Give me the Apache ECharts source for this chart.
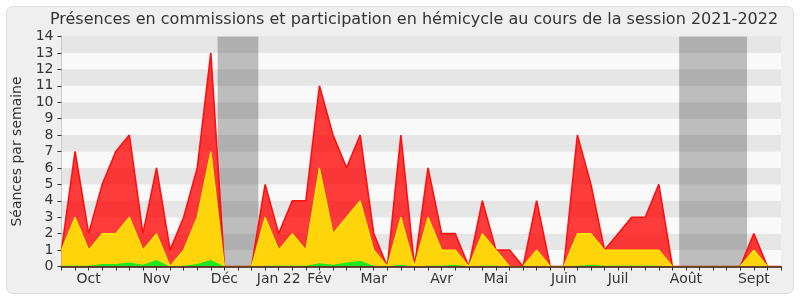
<!DOCTYPE html>
<html>
<head>
<meta charset="utf-8">
<script src="https://cdn.jsdelivr.net/npm/echarts@6/dist/echarts.min.js"></script>
<style>
html,body{margin:0;padding:0;background:#ffffff;}
#chart{width:800px;height:300px;}
</style>
</head>
<body>
<div id="chart"></div>
<script>
// Weekly index 0..53 (session 2021-2022)
const weeks = Array.from({length: 54}, (_, i) => i);
// Month tick labels: week index -> label
const monthLabels = {2: 'Oct', 7: 'Nov', 12: 'Déc', 16: 'Jan 22', 19: 'Fév', 23: 'Mar', 28: 'Avr', 32: 'Mai', 37: 'Juin', 41: 'Juil', 46: 'Août', 51: 'Sept'};
// Vacation periods (week index ranges)
const vacations = [[11.5, 14.5], [45.5, 50.5]];
// Total presence (red)
const totalValues = [1,7,2,5,7,8,2,6,1,3,6,13,0,0,0,5,2,4,4,11,8,6,8,2,0,8,0,6,2,2,0,4,1,1,0,4,0,0,8,5,1,2,3,3,5,0,0,0,0,0,0,2,0,0];
// Participation in hémicycle (yellow)
const hemicycleValues = [1,3,1,2,2,3,1,2,0,1,3,7,0,0,0,3,1,2,1,6,2,3,4,1,0,3,0,3,1,1,0,2,1,0,0,1,0,0,2,2,1,1,1,1,1,0,0,0,0,0,0,1,0,0];
// Small green series
const greenValues = [0.05,0.05,0.05,0.15,0.15,0.25,0.1,0.4,0,0.05,0.15,0.4,0,0,0,0.05,0.05,0.05,0.05,0.2,0.1,0.25,0.35,0.05,0,0.1,0,0.05,0.05,0.1,0,0.05,0.05,0,0,0,0,0,0.05,0.1,0.05,0.05,0.05,0.05,0.05,0,0,0,0,0,0,0,0,0];
const yTicks = [0,1,2,3,4,5,6,7,8,9,10,11,12,13,14];

const toPairs = arr => weeks.map((w, i) => [w, arr[i]]);
const font = 'DejaVu Sans';

const chart = echarts.init(document.getElementById('chart'), null, {renderer: 'canvas'});
chart.setOption({
  animation: false,
  backgroundColor: '#ffffff',
  textStyle: {fontFamily: font},
  graphic: [{
    type: 'rect', z: -10, silent: true,
    shape: {x: 6.5, y: 6.5, width: 787, height: 287, r: 6},
    style: {fill: '#efefef', stroke: '#dcdcdc', lineWidth: 1}
  }],
  title: {
    text: 'Présences en commissions et participation en hémicycle au cours de la session 2021-2022',
    left: 409, top: 7, textAlign: 'center',
    textStyle: {fontFamily: font, fontSize: 16, fontWeight: 'normal', color: '#333333'}
  },
  grid: {left: 61.5, right: 19, top: 36.5, bottom: 33.5, containLabel: false},
  xAxis: [{
    type: 'value', min: 0, max: 53, interval: 1, z: 10,
    axisLine: {show: true, lineStyle: {color: '#3a1508', width: 1.5}},
    axisTick: {show: true, length: 4, lineStyle: {color: '#333'}},
    splitLine: {show: false},
    axisLabel: {
      show: true, margin: 6, fontFamily: font, fontSize: 14, color: '#333',
      formatter: v => monthLabels[v] || ''
    }
  }, {
    type: 'value', min: 0, max: 53, interval: 1, position: 'top',
    axisLine: {show: false},
    axisTick: {show: true, inside: true, length: 1.5, lineStyle: {color: '#222'}},
    axisLabel: {show: false}, splitLine: {show: false}
  }],
  yAxis: [{
    type: 'value', min: 0, max: 14, interval: 1,
    name: 'Séances par semaine', nameLocation: 'middle', nameGap: 37, nameRotate: 90,
    nameTextStyle: {fontFamily: font, fontSize: 14, color: '#333'},
    axisLine: {show: true, lineStyle: {color: '#222'}},
    axisTick: {show: true, length: 4, lineStyle: {color: '#333'}},
    axisLabel: {margin: 8, fontFamily: font, fontSize: 14, color: '#333',
      formatter: v => yTicks.includes(v) ? String(v) : ''},
    splitLine: {show: false},
    splitArea: {show: true, areaStyle: {color: ['#f9f9f9', '#e6e6e6']}}
  }, {
    type: 'value', min: 0, max: 14, interval: 1, position: 'right',
    axisLine: {show: true, lineStyle: {color: '#cccccc'}},
    axisTick: {show: false}, axisLabel: {show: false}, splitLine: {show: false}
  }],
  series: [{
    type: 'line', z: 1, data: [[0, 0]], symbol: 'none',
    lineStyle: {opacity: 0}, silent: true,
    markArea: {
      silent: true,
      itemStyle: {color: 'rgba(0,0,0,0.24)'},
      data: vacations.map(v => [{xAxis: v[0]}, {xAxis: v[1]}])
    }
  }, {
    name: 'Présences', type: 'line', z: 2, data: toPairs(totalValues),
    symbol: 'none', smooth: false,
    lineStyle: {color: '#ff1010', width: 1.6},
    areaStyle: {color: 'rgba(255,0,0,0.76)', opacity: 1}
  }, {
    name: 'Hémicycle', type: 'line', z: 3, data: toPairs(hemicycleValues),
    symbol: 'none', smooth: false,
    lineStyle: {color: '#ffee00', width: 1.2},
    areaStyle: {color: '#ffd40a', opacity: 1}
  }, {
    name: 'Autre', type: 'line', z: 4, data: toPairs(greenValues),
    symbol: 'none', smooth: false,
    lineStyle: {color: '#00ff00', width: 0},
    areaStyle: {color: '#20e820', opacity: 1}
  }]
});
</script>
</body>
</html>
